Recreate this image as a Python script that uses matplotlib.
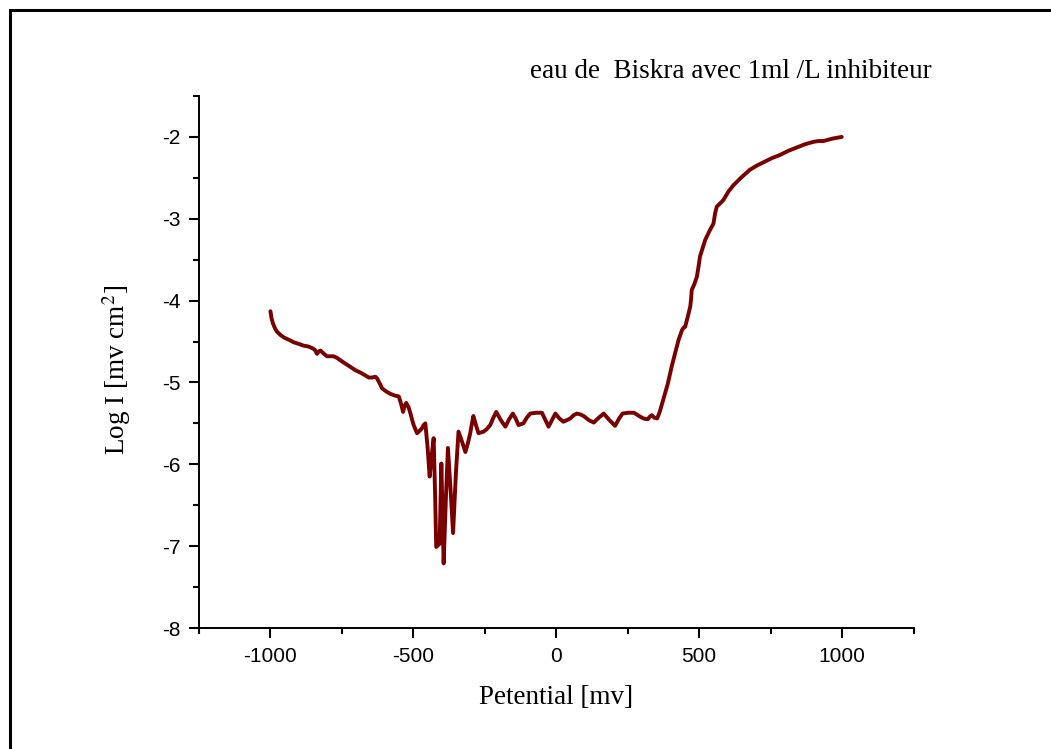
import matplotlib
matplotlib.use("Agg")
import matplotlib.pyplot as plt
from matplotlib.patches import Rectangle

# Polarisation curve: potential (mV) vs log of current density
potential = [
    -1000, -996, -991, -984, -977, -965, -953, -935, -918, -900, -884, -868,
    -854, -845, -837, -831, -825, -813, -802, -790, -779, -767, -755, -738,
    -720, -703, -685, -670, -656, -645, -633, -627, -621, -615, -610, -595,
    -580, -565, -551, -543, -536, -530, -525, -517, -510, -504, -499, -493,
    -487, -478, -470, -464, -458, -450, -443, -436, -429, -424, -420, -414,
    -408, -405, -402, -398, -394, -386, -379, -370, -361, -351, -342, -330,
    -318, -309, -301, -295, -290, -281, -272, -263, -254, -243, -231, -220,
    -210, -194, -178, -165, -152, -142, -132, -124, -115, -103, -91, -70,
    -50, -38, -27, -15, -3, 11, 25, 37, 49, 61, 72, 84, 96, 114, 131, 149,
    166, 186, 206, 220, 232, 252, 272, 281, 290, 305, 320, 327, 334, 343,
    353, 362, 372, 381, 390, 403, 416, 428, 440, 446, 451, 460, 469, 472,
    474, 483, 492, 498, 503, 512, 521, 536, 550, 556, 562, 574, 585, 602,
    620, 649, 678, 702, 725, 754, 783, 812, 841, 870, 900, 918, 935, 967,
    999,
]
log_i = [
    -4.13, -4.22, -4.28, -4.34, -4.38, -4.42, -4.45, -4.48, -4.51, -4.53,
    -4.55, -4.56, -4.58, -4.60, -4.65, -4.62, -4.61, -4.65, -4.68, -4.68,
    -4.68, -4.70, -4.73, -4.77, -4.81, -4.85, -4.88, -4.91, -4.94, -4.94,
    -4.93, -4.95, -4.99, -5.03, -5.07, -5.11, -5.14, -5.16, -5.17, -5.26,
    -5.36, -5.28, -5.25, -5.30, -5.38, -5.46, -5.52, -5.57, -5.62, -5.59,
    -5.56, -5.52, -5.50, -5.80, -6.15, -5.90, -5.68, -6.35, -7.01, -6.99,
    -6.97, -6.45, -5.99, -6.60, -7.21, -6.40, -5.80, -6.30, -6.84, -6.10,
    -5.60, -5.72, -5.85, -5.74, -5.62, -5.50, -5.41, -5.52, -5.62, -5.61,
    -5.60, -5.57, -5.52, -5.43, -5.36, -5.46, -5.54, -5.45, -5.38, -5.44,
    -5.52, -5.51, -5.50, -5.43, -5.38, -5.37, -5.37, -5.46, -5.54, -5.46,
    -5.38, -5.44, -5.48, -5.46, -5.44, -5.40, -5.38, -5.39, -5.41, -5.46,
    -5.49, -5.43, -5.38, -5.46, -5.53, -5.44, -5.38, -5.37, -5.37, -5.39,
    -5.41, -5.44, -5.45, -5.42, -5.40, -5.43, -5.44, -5.36, -5.24, -5.13,
    -5.02, -4.82, -4.64, -4.48, -4.36, -4.33, -4.32, -4.20, -4.07, -3.97,
    -3.87, -3.80, -3.71, -3.58, -3.46, -3.36, -3.26, -3.15, -3.06, -2.93,
    -2.85, -2.81, -2.77, -2.67, -2.59, -2.49, -2.40, -2.35, -2.31, -2.26,
    -2.22, -2.17, -2.13, -2.09, -2.06, -2.05, -2.05, -2.02, -2.00,
]

x_ticks = [-1000, -500, 0, 500, 1000]
y_ticks = [-8, -7, -6, -5, -4, -3, -2]

title_text = "eau de  Biskra avec 1ml /L inhibiteur"
x_label = "Petential [mv]"
y_label = r"Log I [mv cm$^{2}$]"

plt.rcParams["mathtext.fontset"] = "stix"

W, H = 1051, 749
fig = plt.figure(figsize=(W / 100, H / 100), dpi=100)
fig.patch.set_facecolor("white")

ax = fig.add_axes([199 / W, 1 - 628 / H, (913.5 - 199) / W, (628 - 96) / H])
ax.plot(potential, log_i, color="#7a0000", lw=2.8, solid_joinstyle="round",
        solid_capstyle="round")

ax.set_xlim(-1250, 1250)
ax.set_ylim(-8, -1.5)
ax.set_xticks(x_ticks)
ax.set_yticks(y_ticks)
ax.set_xticks([-1250, -750, -250, 250, 750, 1250], minor=True)
ax.set_yticks([-7.5, -6.5, -5.5, -4.5, -3.5, -2.5, -1.5], minor=True)
ax.set_xticklabels([str(v) for v in x_ticks])
ax.set_yticklabels([str(v) for v in y_ticks])

for side in ("top", "right"):
    ax.spines[side].set_visible(False)
for side in ("left", "bottom"):
    ax.spines[side].set_linewidth(1.4)

ax.tick_params(which="major", direction="out", length=7.5, width=1.5,
               pad=6, labelsize=15)
ax.tick_params(which="minor", direction="out", length=4, width=1.5)
for lab in ax.get_xticklabels() + ax.get_yticklabels():
    lab.set_fontfamily("Liberation Sans")

serif = "Liberation Serif"
fig.text(530 / W, 1 - 78 / H, title_text, family=serif, fontsize=19.5,
         ha="left", va="baseline")
fig.text(556 / W, 1 - 704 / H, x_label, family=serif, fontsize=19.5,
         ha="center", va="baseline")
fig.text(117 / W, 1 - 370 / H, y_label, family=serif, fontsize=19.5,
         ha="center", va="center", rotation=90)

# Page frame, open on the right and bottom edges
fig.patches.append(Rectangle((9.5 / W, -0.1), 1.2, 1 - 9.5 / H + 0.1,
                             transform=fig.transFigure, fill=False,
                             edgecolor="black", lw=2.2, clip_on=False))

fig.savefig("out.png", dpi=100, facecolor="white")
